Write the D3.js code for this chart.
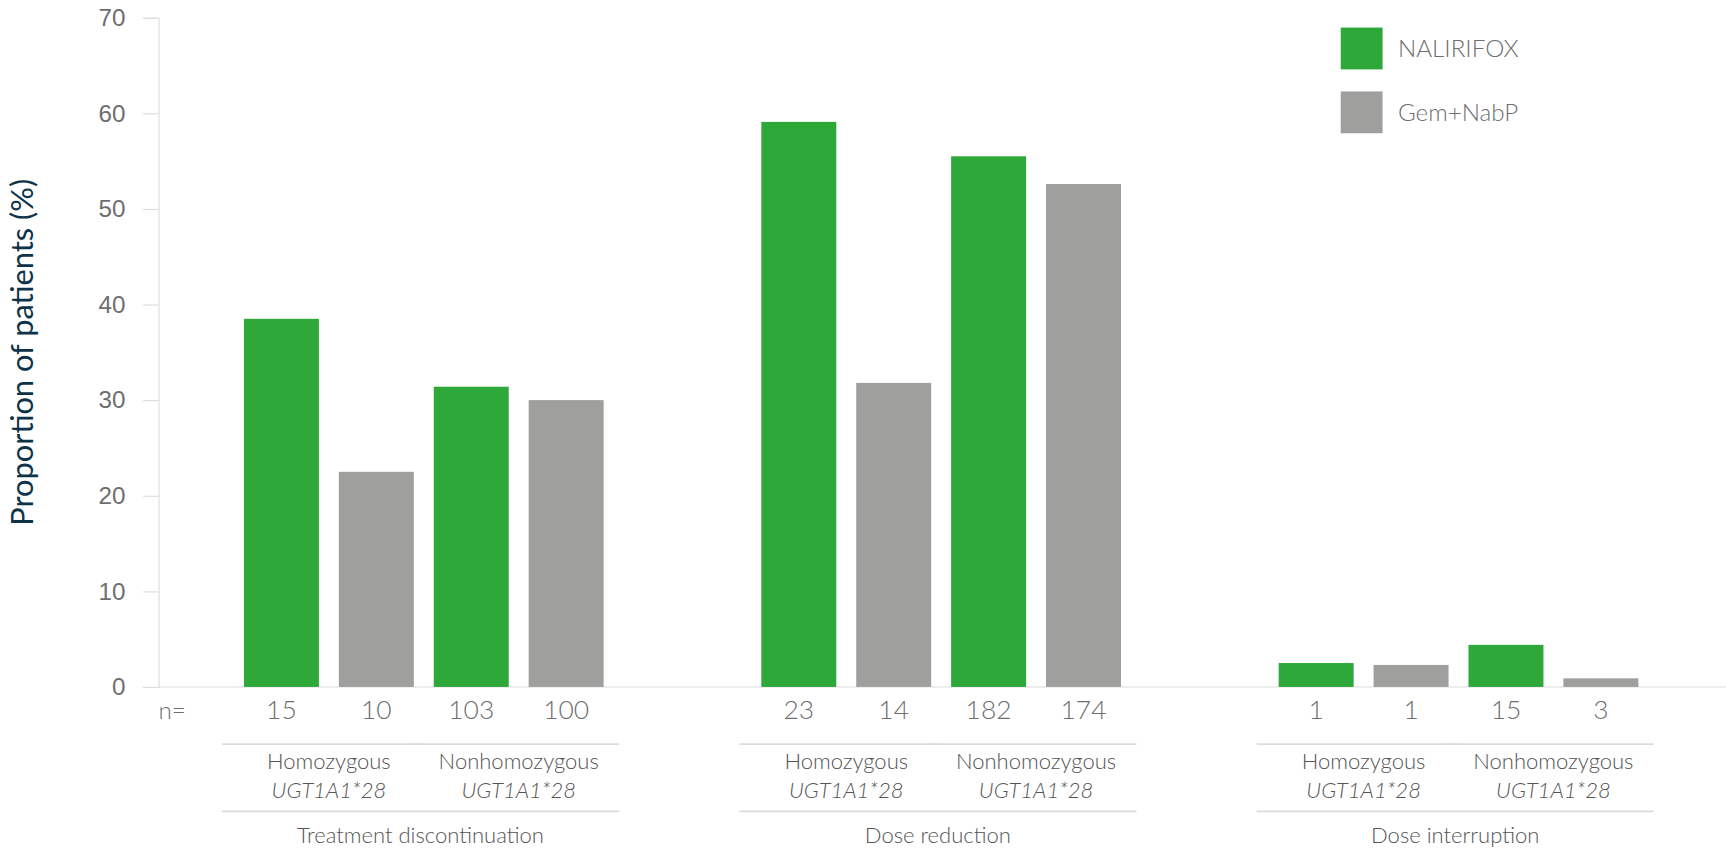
<!DOCTYPE html>
<html>
<head>
<meta charset="utf-8">
<script src="https://cdn.jsdelivr.net/npm/d3@7"></script>
<style>
  html, body { margin: 0; padding: 0; background: #fff; }
  svg { display: block; font-family: Lato, "Noto Sans", sans-serif; }
</style>
</head>
<body>
<div id="chart"></div>
<script>
// data
const outcomes = ["Treatment discontinuation", "Dose reduction", "Dose interruption"];
const genotypes = ["Homozygous", "Nonhomozygous"];
const arms = ["NALIRIFOX", "Gem+NabP"];
const nalirifox = [[38.5, 31.4], [59.1, 55.5], [2.5, 4.4]];
const gemNabp = [[22.5, 30.0], [31.8, 52.6], [2.3, 0.9]];
const nCounts = [[15, 10, 103, 100], [23, 14, 182, 174], [1, 1, 15, 3]];
const yTicks = [0, 10, 20, 30, 40, 50, 60, 70];

const colors = { "NALIRIFOX": "#2fa83a", "Gem+NabP": "#9f9f9d" };

// layout in a 1568x773 frame, scaled to window
const W = 1568, H = 773;
const svg = d3.select("#chart").append("svg")
  .attr("width", 1726).attr("height", 851)
  .attr("viewBox", `0 0 ${W} ${H}`);

const y = d3.scaleLinear().domain([0, 70]).range([624, 16]);
const outerX = d3.scaleBand().domain(outcomes).range([213, 1623]).paddingInner(0).paddingOuter(0);
const barX = d3.scaleBand().domain(d3.range(4)).range([0, 344]).paddingInner(0.21).paddingOuter(0.1);

// grid axis
const axis = svg.append("g").attr("transform", "translate(144,0)")
  .call(d3.axisLeft(y).tickValues(yTicks).tickSize(14).tickPadding(16));
axis.select(".domain").attr("stroke", "#dcdcdc");
axis.selectAll(".tick line").attr("stroke", "#dcdcdc");
axis.selectAll(".tick text").attr("font-size", 22).attr("fill", "#6e6e6e").attr("font-weight", 300);

svg.append("line").attr("x1", 144).attr("x2", 1568)
  .attr("y1", y(0)).attr("y2", y(0)).attr("stroke", "#dcdcdc");

svg.append("text").attr("transform", `translate(30,${y(35)}) rotate(-90)`)
  .attr("text-anchor", "middle").attr("font-size", 28).attr("fill", "#0d3349")
  .text("Proportion of patients (%)");

svg.append("text").attr("x", 144).attr("y", 653).attr("font-size", 22)
  .attr("fill", "#6e6e6e").attr("font-weight", 300).text("n=");

outcomes.forEach((o, i) => {
  const g = svg.append("g").attr("transform", `translate(${outerX(o)},0)`);
  const vals = [nalirifox[i][0], gemNabp[i][0], nalirifox[i][1], gemNabp[i][1]];
  vals.forEach((v, j) => {
    g.append("rect").attr("x", barX(j)).attr("width", barX.bandwidth())
      .attr("y", y(v)).attr("height", y(0) - y(v))
      .attr("fill", colors[arms[j % 2]]);
    g.append("text").attr("x", barX(j) + barX.bandwidth() / 2).attr("y", 653)
      .attr("text-anchor", "middle").attr("font-size", 24).attr("fill", "#6e6e6e")
      .attr("font-weight", 300).text(nCounts[i][j]);
  });
  genotypes.forEach((gt, k) => {
    const x0 = barX(k * 2) - 20, x1 = barX(k * 2 + 1) + barX.bandwidth() + (k === 0 ? 8 : 14);
    const cx = (barX(k * 2) + barX(k * 2 + 1) + barX.bandwidth()) / 2;
    g.append("line").attr("x1", x0).attr("x2", x1).attr("y1", 676).attr("y2", 676)
      .attr("stroke", "#dcdcdc").attr("stroke-width", 1.5);
    g.append("text").attr("x", cx).attr("y", 699).attr("text-anchor", "middle")
      .attr("font-size", 20).attr("fill", "#555").attr("font-weight", 300).text(gt);
    g.append("text").attr("x", cx).attr("y", 725).attr("text-anchor", "middle")
      .attr("font-size", 20).attr("fill", "#555").attr("font-style", "italic")
      .attr("font-weight", 300).text("UGT1A1*28");
  });
  g.append("line").attr("x1", barX(0) - 20).attr("x2", barX(3) + barX.bandwidth() + 14)
    .attr("y1", 737).attr("y2", 737).attr("stroke", "#dcdcdc").attr("stroke-width", 1.5);
  g.append("text").attr("x", (barX(0) - 20 + barX(3) + barX.bandwidth() + 14) / 2).attr("y", 766)
    .attr("text-anchor", "middle").attr("font-size", 20).attr("fill", "#555")
    .attr("font-weight", 300).text(o);
});

// legend
const leg = svg.append("g").attr("transform", "translate(1218,25)");
arms.forEach((a, i) => {
  leg.append("rect").attr("y", i * 58).attr("width", 38).attr("height", 38).attr("fill", colors[a]);
  leg.append("text").attr("x", 52).attr("y", i * 58 + 27).attr("font-size", 22)
    .attr("fill", "#6e6e6e").attr("font-weight", 300).text(a);
});
</script>
</body>
</html>
